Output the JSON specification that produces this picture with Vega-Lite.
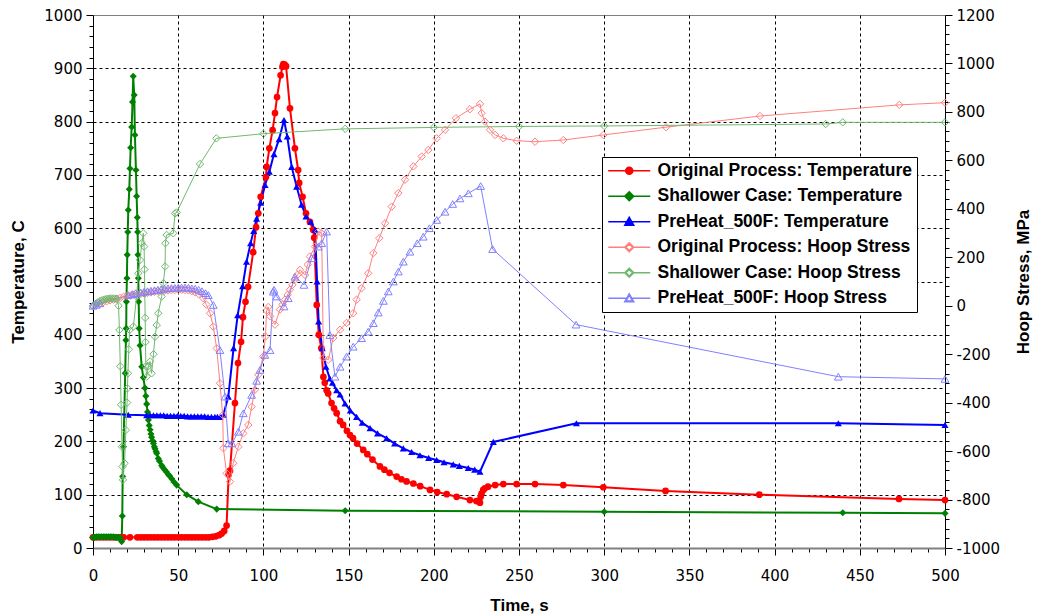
{
"$schema":"https://vega.github.io/schema/vega-lite/v6.json",
"width":852,"height":533,
"autosize":"none",
"padding":{"left":93,"top":15,"right":94,"bottom":67},
"background":"white",
"config":{
 "view":{"stroke":"#808080","strokeWidth":1},
 "axis":{"labelFont":"DejaVu Sans","labelFontSize":15,"labelColor":"black","titleFont":"Liberation Sans","titleFontSize":17,"titleFontWeight":"bold","titleColor":"black","tickColor":"black","domainColor":"black","labelOverlap":false,"labelFlush":false,"tickSize":7}
},
"datasets":{
"series":[{"s":"Original Process: Temperature"},{"s":"Shallower Case: Temperature"},{"s":"PreHeat_500F: Temperature"},{"s":"Original Process: Hoop Stress"},{"s":"Shallower Case: Hoop Stress"},{"s":"PreHeat_500F: Hoop Stress"}],
"temp":[
{"s":"Original Process: Temperature","t":0,"v":20},{"s":"Original Process: Temperature","t":2,"v":20},{"s":"Original Process: Temperature","t":4,"v":20},{"s":"Original Process: Temperature","t":6,"v":20},{"s":"Original Process: Temperature","t":8,"v":20},{"s":"Original Process: Temperature","t":10,"v":20},{"s":"Original Process: Temperature","t":12,"v":20},{"s":"Original Process: Temperature","t":14,"v":20},{"s":"Original Process: Temperature","t":16,"v":20},{"s":"Original Process: Temperature","t":18,"v":20},{"s":"Original Process: Temperature","t":21.7,"v":20},{"s":"Original Process: Temperature","t":26,"v":20},{"s":"Original Process: Temperature","t":28,"v":20},{"s":"Original Process: Temperature","t":30,"v":20},{"s":"Original Process: Temperature","t":32,"v":20},{"s":"Original Process: Temperature","t":34,"v":20},{"s":"Original Process: Temperature","t":36,"v":20},{"s":"Original Process: Temperature","t":38,"v":20},{"s":"Original Process: Temperature","t":40,"v":20},{"s":"Original Process: Temperature","t":42,"v":20},{"s":"Original Process: Temperature","t":44,"v":20},{"s":"Original Process: Temperature","t":46,"v":20},{"s":"Original Process: Temperature","t":48,"v":20},{"s":"Original Process: Temperature","t":50,"v":20},{"s":"Original Process: Temperature","t":52,"v":20},{"s":"Original Process: Temperature","t":54,"v":20},{"s":"Original Process: Temperature","t":56,"v":20},{"s":"Original Process: Temperature","t":58,"v":20},{"s":"Original Process: Temperature","t":60,"v":20},{"s":"Original Process: Temperature","t":62,"v":20},{"s":"Original Process: Temperature","t":64,"v":20},{"s":"Original Process: Temperature","t":66,"v":20},{"s":"Original Process: Temperature","t":68,"v":20},{"s":"Original Process: Temperature","t":70,"v":21},{"s":"Original Process: Temperature","t":72,"v":22},{"s":"Original Process: Temperature","t":74,"v":24},{"s":"Original Process: Temperature","t":75.5,"v":27},{"s":"Original Process: Temperature","t":77,"v":32},{"s":"Original Process: Temperature","t":78.4,"v":42},{"s":"Original Process: Temperature","t":79.6,"v":138},{"s":"Original Process: Temperature","t":80.4,"v":145},{"s":"Original Process: Temperature","t":83.3,"v":272},{"s":"Original Process: Temperature","t":85.1,"v":347},{"s":"Original Process: Temperature","t":86.9,"v":387},{"s":"Original Process: Temperature","t":88,"v":433},{"s":"Original Process: Temperature","t":89.5,"v":462},{"s":"Original Process: Temperature","t":91,"v":490},{"s":"Original Process: Temperature","t":94,"v":555},{"s":"Original Process: Temperature","t":95.7,"v":602},{"s":"Original Process: Temperature","t":97,"v":628},{"s":"Original Process: Temperature","t":98.4,"v":659},{"s":"Original Process: Temperature","t":101.5,"v":696},{"s":"Original Process: Temperature","t":101.9,"v":715},{"s":"Original Process: Temperature","t":103.5,"v":750},{"s":"Original Process: Temperature","t":105.4,"v":784},{"s":"Original Process: Temperature","t":106.8,"v":816},{"s":"Original Process: Temperature","t":108,"v":846},{"s":"Original Process: Temperature","t":110.1,"v":887},{"s":"Original Process: Temperature","t":111.2,"v":903},{"s":"Original Process: Temperature","t":111.7,"v":908},{"s":"Original Process: Temperature","t":112.5,"v":907},{"s":"Original Process: Temperature","t":113.3,"v":904},{"s":"Original Process: Temperature","t":115.6,"v":825},{"s":"Original Process: Temperature","t":118.5,"v":750},{"s":"Original Process: Temperature","t":120.4,"v":709},{"s":"Original Process: Temperature","t":121,"v":685},{"s":"Original Process: Temperature","t":123,"v":659},{"s":"Original Process: Temperature","t":125,"v":628},{"s":"Original Process: Temperature","t":127.3,"v":612},{"s":"Original Process: Temperature","t":129.2,"v":597},{"s":"Original Process: Temperature","t":129.8,"v":582},{"s":"Original Process: Temperature","t":131.3,"v":456},{"s":"Original Process: Temperature","t":132.5,"v":400},{"s":"Original Process: Temperature","t":134,"v":375},{"s":"Original Process: Temperature","t":135.2,"v":321},{"s":"Original Process: Temperature","t":136,"v":310},{"s":"Original Process: Temperature","t":137.1,"v":296},{"s":"Original Process: Temperature","t":138,"v":290},{"s":"Original Process: Temperature","t":140,"v":272},{"s":"Original Process: Temperature","t":141.5,"v":262},{"s":"Original Process: Temperature","t":143,"v":253},{"s":"Original Process: Temperature","t":145,"v":238},{"s":"Original Process: Temperature","t":146.8,"v":231},{"s":"Original Process: Temperature","t":149,"v":220},{"s":"Original Process: Temperature","t":150.8,"v":212},{"s":"Original Process: Temperature","t":152.6,"v":206},{"s":"Original Process: Temperature","t":155,"v":196},{"s":"Original Process: Temperature","t":158.6,"v":184},{"s":"Original Process: Temperature","t":161,"v":176},{"s":"Original Process: Temperature","t":164,"v":166},{"s":"Original Process: Temperature","t":168.4,"v":153},{"s":"Original Process: Temperature","t":171,"v":147},{"s":"Original Process: Temperature","t":174,"v":141},{"s":"Original Process: Temperature","t":178.2,"v":134},{"s":"Original Process: Temperature","t":181,"v":129},{"s":"Original Process: Temperature","t":184,"v":125},{"s":"Original Process: Temperature","t":188,"v":121},{"s":"Original Process: Temperature","t":192,"v":116},{"s":"Original Process: Temperature","t":197.8,"v":109},{"s":"Original Process: Temperature","t":202,"v":105},{"s":"Original Process: Temperature","t":207.6,"v":101},{"s":"Original Process: Temperature","t":213.4,"v":96},{"s":"Original Process: Temperature","t":221.2,"v":90},{"s":"Original Process: Temperature","t":225,"v":88},{"s":"Original Process: Temperature","t":227.1,"v":85},{"s":"Original Process: Temperature","t":227.5,"v":96},{"s":"Original Process: Temperature","t":228,"v":102},{"s":"Original Process: Temperature","t":229,"v":109},{"s":"Original Process: Temperature","t":230,"v":112},{"s":"Original Process: Temperature","t":231.8,"v":115},{"s":"Original Process: Temperature","t":236,"v":118},{"s":"Original Process: Temperature","t":240.8,"v":120},{"s":"Original Process: Temperature","t":248.6,"v":120},{"s":"Original Process: Temperature","t":259.4,"v":120},{"s":"Original Process: Temperature","t":276,"v":118},{"s":"Original Process: Temperature","t":299.5,"v":114},{"s":"Original Process: Temperature","t":336,"v":107},{"s":"Original Process: Temperature","t":391,"v":100},{"s":"Original Process: Temperature","t":473,"v":92},{"s":"Original Process: Temperature","t":500,"v":90},
{"s":"Shallower Case: Temperature","t":0,"v":20},{"s":"Shallower Case: Temperature","t":1,"v":20},{"s":"Shallower Case: Temperature","t":2,"v":21},{"s":"Shallower Case: Temperature","t":3,"v":21},{"s":"Shallower Case: Temperature","t":4,"v":21},{"s":"Shallower Case: Temperature","t":5,"v":21},{"s":"Shallower Case: Temperature","t":6,"v":21},{"s":"Shallower Case: Temperature","t":7,"v":21},{"s":"Shallower Case: Temperature","t":8,"v":21},{"s":"Shallower Case: Temperature","t":9,"v":21},{"s":"Shallower Case: Temperature","t":10,"v":21},{"s":"Shallower Case: Temperature","t":11,"v":21},{"s":"Shallower Case: Temperature","t":12,"v":21},{"s":"Shallower Case: Temperature","t":13,"v":20},{"s":"Shallower Case: Temperature","t":14,"v":20},{"s":"Shallower Case: Temperature","t":15,"v":20},{"s":"Shallower Case: Temperature","t":16,"v":19},{"s":"Shallower Case: Temperature","t":16.8,"v":12},{"s":"Shallower Case: Temperature","t":17.2,"v":60},{"s":"Shallower Case: Temperature","t":17.4,"v":134},{"s":"Shallower Case: Temperature","t":17.9,"v":190},{"s":"Shallower Case: Temperature","t":18.9,"v":328},{"s":"Shallower Case: Temperature","t":19.3,"v":390},{"s":"Shallower Case: Temperature","t":19.5,"v":412},{"s":"Shallower Case: Temperature","t":19.6,"v":462},{"s":"Shallower Case: Temperature","t":19.9,"v":506},{"s":"Shallower Case: Temperature","t":20.1,"v":550},{"s":"Shallower Case: Temperature","t":20.4,"v":593},{"s":"Shallower Case: Temperature","t":20.7,"v":634},{"s":"Shallower Case: Temperature","t":21.3,"v":673},{"s":"Shallower Case: Temperature","t":21.7,"v":712},{"s":"Shallower Case: Temperature","t":22.1,"v":751},{"s":"Shallower Case: Temperature","t":22.7,"v":790},{"s":"Shallower Case: Temperature","t":23.2,"v":837},{"s":"Shallower Case: Temperature","t":23.6,"v":885},{"s":"Shallower Case: Temperature","t":24.2,"v":850},{"s":"Shallower Case: Temperature","t":24.6,"v":775},{"s":"Shallower Case: Temperature","t":25.2,"v":709},{"s":"Shallower Case: Temperature","t":25.6,"v":660},{"s":"Shallower Case: Temperature","t":26,"v":620},{"s":"Shallower Case: Temperature","t":26.2,"v":593},{"s":"Shallower Case: Temperature","t":26.4,"v":550},{"s":"Shallower Case: Temperature","t":26.6,"v":506},{"s":"Shallower Case: Temperature","t":26.8,"v":462},{"s":"Shallower Case: Temperature","t":27.1,"v":412},{"s":"Shallower Case: Temperature","t":27.6,"v":380},{"s":"Shallower Case: Temperature","t":28.6,"v":340},{"s":"Shallower Case: Temperature","t":29.5,"v":320},{"s":"Shallower Case: Temperature","t":30.5,"v":300},{"s":"Shallower Case: Temperature","t":31,"v":285},{"s":"Shallower Case: Temperature","t":31.5,"v":270},{"s":"Shallower Case: Temperature","t":32,"v":255},{"s":"Shallower Case: Temperature","t":32.5,"v":240},{"s":"Shallower Case: Temperature","t":33,"v":230},{"s":"Shallower Case: Temperature","t":33.5,"v":222},{"s":"Shallower Case: Temperature","t":34,"v":214},{"s":"Shallower Case: Temperature","t":34.4,"v":208},{"s":"Shallower Case: Temperature","t":35,"v":201},{"s":"Shallower Case: Temperature","t":35.5,"v":196},{"s":"Shallower Case: Temperature","t":36,"v":190},{"s":"Shallower Case: Temperature","t":36.4,"v":186},{"s":"Shallower Case: Temperature","t":37,"v":181},{"s":"Shallower Case: Temperature","t":37.4,"v":178},{"s":"Shallower Case: Temperature","t":38.3,"v":168},{"s":"Shallower Case: Temperature","t":39,"v":163},{"s":"Shallower Case: Temperature","t":40.3,"v":155},{"s":"Shallower Case: Temperature","t":41,"v":151},{"s":"Shallower Case: Temperature","t":42,"v":147},{"s":"Shallower Case: Temperature","t":43,"v":143},{"s":"Shallower Case: Temperature","t":44.2,"v":138},{"s":"Shallower Case: Temperature","t":45,"v":135},{"s":"Shallower Case: Temperature","t":46.2,"v":130},{"s":"Shallower Case: Temperature","t":47.5,"v":124},{"s":"Shallower Case: Temperature","t":49.1,"v":118},{"s":"Shallower Case: Temperature","t":55,"v":100},{"s":"Shallower Case: Temperature","t":61.8,"v":87},{"s":"Shallower Case: Temperature","t":72.6,"v":73},{"s":"Shallower Case: Temperature","t":148,"v":70},{"s":"Shallower Case: Temperature","t":300,"v":68},{"s":"Shallower Case: Temperature","t":440,"v":66},{"s":"Shallower Case: Temperature","t":500,"v":65},
{"s":"PreHeat_500F: Temperature","t":0,"v":258},{"s":"PreHeat_500F: Temperature","t":4.1,"v":253},{"s":"PreHeat_500F: Temperature","t":20.7,"v":250},{"s":"PreHeat_500F: Temperature","t":31.5,"v":249},{"s":"PreHeat_500F: Temperature","t":33.5,"v":249},{"s":"PreHeat_500F: Temperature","t":35.5,"v":249},{"s":"PreHeat_500F: Temperature","t":37.5,"v":249},{"s":"PreHeat_500F: Temperature","t":39.5,"v":249},{"s":"PreHeat_500F: Temperature","t":41.5,"v":249},{"s":"PreHeat_500F: Temperature","t":43.5,"v":248},{"s":"PreHeat_500F: Temperature","t":45.5,"v":248},{"s":"PreHeat_500F: Temperature","t":47.5,"v":248},{"s":"PreHeat_500F: Temperature","t":49.5,"v":248},{"s":"PreHeat_500F: Temperature","t":51.5,"v":248},{"s":"PreHeat_500F: Temperature","t":53.5,"v":248},{"s":"PreHeat_500F: Temperature","t":55.5,"v":247},{"s":"PreHeat_500F: Temperature","t":57.5,"v":247},{"s":"PreHeat_500F: Temperature","t":59.5,"v":247},{"s":"PreHeat_500F: Temperature","t":61.5,"v":247},{"s":"PreHeat_500F: Temperature","t":63.5,"v":247},{"s":"PreHeat_500F: Temperature","t":65.5,"v":247},{"s":"PreHeat_500F: Temperature","t":67.5,"v":246},{"s":"PreHeat_500F: Temperature","t":69.5,"v":246},{"s":"PreHeat_500F: Temperature","t":71.5,"v":246},{"s":"PreHeat_500F: Temperature","t":73,"v":246},{"s":"PreHeat_500F: Temperature","t":74.5,"v":246},{"s":"PreHeat_500F: Temperature","t":76.5,"v":250},{"s":"PreHeat_500F: Temperature","t":79.4,"v":284},{"s":"PreHeat_500F: Temperature","t":82.5,"v":375},{"s":"PreHeat_500F: Temperature","t":84.9,"v":437},{"s":"PreHeat_500F: Temperature","t":87.8,"v":491},{"s":"PreHeat_500F: Temperature","t":90.1,"v":537},{"s":"PreHeat_500F: Temperature","t":92.5,"v":572},{"s":"PreHeat_500F: Temperature","t":94.3,"v":595},{"s":"PreHeat_500F: Temperature","t":96,"v":618},{"s":"PreHeat_500F: Temperature","t":98.4,"v":648},{"s":"PreHeat_500F: Temperature","t":101,"v":681},{"s":"PreHeat_500F: Temperature","t":103.5,"v":706},{"s":"PreHeat_500F: Temperature","t":106.2,"v":739},{"s":"PreHeat_500F: Temperature","t":109.2,"v":767},{"s":"PreHeat_500F: Temperature","t":112.1,"v":803},{"s":"PreHeat_500F: Temperature","t":114,"v":772},{"s":"PreHeat_500F: Temperature","t":116.6,"v":715},{"s":"PreHeat_500F: Temperature","t":119.5,"v":678},{"s":"PreHeat_500F: Temperature","t":122.4,"v":644},{"s":"PreHeat_500F: Temperature","t":125,"v":622},{"s":"PreHeat_500F: Temperature","t":127.8,"v":612},{"s":"PreHeat_500F: Temperature","t":130.3,"v":597},{"s":"PreHeat_500F: Temperature","t":131.5,"v":500},{"s":"PreHeat_500F: Temperature","t":132.4,"v":425},{"s":"PreHeat_500F: Temperature","t":134.5,"v":375},{"s":"PreHeat_500F: Temperature","t":136.7,"v":340},{"s":"PreHeat_500F: Temperature","t":139,"v":318},{"s":"PreHeat_500F: Temperature","t":140.5,"v":310},{"s":"PreHeat_500F: Temperature","t":143,"v":296},{"s":"PreHeat_500F: Temperature","t":145,"v":288},{"s":"PreHeat_500F: Temperature","t":147.9,"v":271},{"s":"PreHeat_500F: Temperature","t":151,"v":258},{"s":"PreHeat_500F: Temperature","t":154.7,"v":246},{"s":"PreHeat_500F: Temperature","t":158,"v":235},{"s":"PreHeat_500F: Temperature","t":162.6,"v":225},{"s":"PreHeat_500F: Temperature","t":167,"v":215},{"s":"PreHeat_500F: Temperature","t":172.3,"v":206},{"s":"PreHeat_500F: Temperature","t":177,"v":196},{"s":"PreHeat_500F: Temperature","t":182.1,"v":187},{"s":"PreHeat_500F: Temperature","t":187,"v":180},{"s":"PreHeat_500F: Temperature","t":191.9,"v":174},{"s":"PreHeat_500F: Temperature","t":197,"v":169},{"s":"PreHeat_500F: Temperature","t":201.7,"v":165},{"s":"PreHeat_500F: Temperature","t":206,"v":161},{"s":"PreHeat_500F: Temperature","t":211.4,"v":157},{"s":"PreHeat_500F: Temperature","t":215,"v":154},{"s":"PreHeat_500F: Temperature","t":220.2,"v":150},{"s":"PreHeat_500F: Temperature","t":224,"v":147},{"s":"PreHeat_500F: Temperature","t":227.1,"v":143},{"s":"PreHeat_500F: Temperature","t":234.9,"v":199},{"s":"PreHeat_500F: Temperature","t":283.7,"v":234},{"s":"PreHeat_500F: Temperature","t":437.4,"v":234},{"s":"PreHeat_500F: Temperature","t":500,"v":231}
],
"stress":[
{"s":"Original Process: Hoop Stress","t":0,"v":-3},{"s":"Original Process: Hoop Stress","t":2,"v":3},{"s":"Original Process: Hoop Stress","t":4,"v":9},{"s":"Original Process: Hoop Stress","t":6,"v":14},{"s":"Original Process: Hoop Stress","t":8,"v":18},{"s":"Original Process: Hoop Stress","t":10,"v":22},{"s":"Original Process: Hoop Stress","t":12,"v":25},{"s":"Original Process: Hoop Stress","t":14,"v":29},{"s":"Original Process: Hoop Stress","t":16,"v":33},{"s":"Original Process: Hoop Stress","t":18,"v":37},{"s":"Original Process: Hoop Stress","t":20,"v":40},{"s":"Original Process: Hoop Stress","t":22,"v":42},{"s":"Original Process: Hoop Stress","t":24,"v":45},{"s":"Original Process: Hoop Stress","t":26,"v":47},{"s":"Original Process: Hoop Stress","t":28,"v":49},{"s":"Original Process: Hoop Stress","t":30,"v":51},{"s":"Original Process: Hoop Stress","t":32,"v":53},{"s":"Original Process: Hoop Stress","t":34,"v":55},{"s":"Original Process: Hoop Stress","t":36,"v":57},{"s":"Original Process: Hoop Stress","t":38,"v":59},{"s":"Original Process: Hoop Stress","t":40,"v":61},{"s":"Original Process: Hoop Stress","t":42,"v":62},{"s":"Original Process: Hoop Stress","t":44,"v":63},{"s":"Original Process: Hoop Stress","t":46,"v":64},{"s":"Original Process: Hoop Stress","t":48,"v":65},{"s":"Original Process: Hoop Stress","t":50,"v":66},{"s":"Original Process: Hoop Stress","t":52,"v":66},{"s":"Original Process: Hoop Stress","t":54,"v":65},{"s":"Original Process: Hoop Stress","t":56,"v":63},{"s":"Original Process: Hoop Stress","t":58,"v":60},{"s":"Original Process: Hoop Stress","t":60,"v":55},{"s":"Original Process: Hoop Stress","t":62,"v":48},{"s":"Original Process: Hoop Stress","t":64.7,"v":31},{"s":"Original Process: Hoop Stress","t":66.5,"v":5},{"s":"Original Process: Hoop Stress","t":68.7,"v":-31},{"s":"Original Process: Hoop Stress","t":70.6,"v":-86},{"s":"Original Process: Hoop Stress","t":72.6,"v":-176},{"s":"Original Process: Hoop Stress","t":74.5,"v":-320},{"s":"Original Process: Hoop Stress","t":76.1,"v":-451},{"s":"Original Process: Hoop Stress","t":76.5,"v":-588},{"s":"Original Process: Hoop Stress","t":78.4,"v":-692},{"s":"Original Process: Hoop Stress","t":80.4,"v":-726},{"s":"Original Process: Hoop Stress","t":82.3,"v":-650},{"s":"Original Process: Hoop Stress","t":85.3,"v":-582},{"s":"Original Process: Hoop Stress","t":88.2,"v":-527},{"s":"Original Process: Hoop Stress","t":91.1,"v":-492},{"s":"Original Process: Hoop Stress","t":93.1,"v":-417},{"s":"Original Process: Hoop Stress","t":95,"v":-347},{"s":"Original Process: Hoop Stress","t":97,"v":-285},{"s":"Original Process: Hoop Stress","t":99.9,"v":-210},{"s":"Original Process: Hoop Stress","t":101.2,"v":-127},{"s":"Original Process: Hoop Stress","t":101.9,"v":-20},{"s":"Original Process: Hoop Stress","t":102.9,"v":-5},{"s":"Original Process: Hoop Stress","t":104,"v":-44},{"s":"Original Process: Hoop Stress","t":106.8,"v":-78},{"s":"Original Process: Hoop Stress","t":109.7,"v":-16},{"s":"Original Process: Hoop Stress","t":111.2,"v":5},{"s":"Original Process: Hoop Stress","t":112.7,"v":25},{"s":"Original Process: Hoop Stress","t":114.2,"v":45},{"s":"Original Process: Hoop Stress","t":115.6,"v":66},{"s":"Original Process: Hoop Stress","t":117,"v":86},{"s":"Original Process: Hoop Stress","t":118.5,"v":107},{"s":"Original Process: Hoop Stress","t":120,"v":128},{"s":"Original Process: Hoop Stress","t":121.5,"v":148},{"s":"Original Process: Hoop Stress","t":124.4,"v":127},{"s":"Original Process: Hoop Stress","t":126,"v":170},{"s":"Original Process: Hoop Stress","t":127.3,"v":203},{"s":"Original Process: Hoop Stress","t":130.3,"v":244},{"s":"Original Process: Hoop Stress","t":132.2,"v":306},{"s":"Original Process: Hoop Stress","t":134.2,"v":299},{"s":"Original Process: Hoop Stress","t":135.2,"v":-216},{"s":"Original Process: Hoop Stress","t":138.1,"v":-223},{"s":"Original Process: Hoop Stress","t":141,"v":-133},{"s":"Original Process: Hoop Stress","t":145,"v":-99},{"s":"Original Process: Hoop Stress","t":148.8,"v":-71},{"s":"Original Process: Hoop Stress","t":152.7,"v":-31},{"s":"Original Process: Hoop Stress","t":154.7,"v":25},{"s":"Original Process: Hoop Stress","t":157.6,"v":72},{"s":"Original Process: Hoop Stress","t":161.5,"v":134},{"s":"Original Process: Hoop Stress","t":164.5,"v":217},{"s":"Original Process: Hoop Stress","t":168,"v":279},{"s":"Original Process: Hoop Stress","t":171.4,"v":340},{"s":"Original Process: Hoop Stress","t":175.3,"v":409},{"s":"Original Process: Hoop Stress","t":179.2,"v":465},{"s":"Original Process: Hoop Stress","t":183.1,"v":520},{"s":"Original Process: Hoop Stress","t":188,"v":575},{"s":"Original Process: Hoop Stress","t":192.9,"v":616},{"s":"Original Process: Hoop Stress","t":196.8,"v":643},{"s":"Original Process: Hoop Stress","t":201.7,"v":691},{"s":"Original Process: Hoop Stress","t":206.6,"v":726},{"s":"Original Process: Hoop Stress","t":213,"v":774},{"s":"Original Process: Hoop Stress","t":221.2,"v":811},{"s":"Original Process: Hoop Stress","t":227.1,"v":833},{"s":"Original Process: Hoop Stress","t":228.1,"v":795},{"s":"Original Process: Hoop Stress","t":230,"v":760},{"s":"Original Process: Hoop Stress","t":233,"v":726},{"s":"Original Process: Hoop Stress","t":236,"v":705},{"s":"Original Process: Hoop Stress","t":240.8,"v":691},{"s":"Original Process: Hoop Stress","t":248.6,"v":681},{"s":"Original Process: Hoop Stress","t":259.4,"v":677},{"s":"Original Process: Hoop Stress","t":276,"v":684},{"s":"Original Process: Hoop Stress","t":299.5,"v":705},{"s":"Original Process: Hoop Stress","t":336.3,"v":737},{"s":"Original Process: Hoop Stress","t":391.4,"v":783},{"s":"Original Process: Hoop Stress","t":473.2,"v":829},{"s":"Original Process: Hoop Stress","t":500,"v":838},
{"s":"Shallower Case: Hoop Stress","t":0,"v":0},{"s":"Shallower Case: Hoop Stress","t":1,"v":5},{"s":"Shallower Case: Hoop Stress","t":2,"v":10},{"s":"Shallower Case: Hoop Stress","t":3,"v":14},{"s":"Shallower Case: Hoop Stress","t":4,"v":18},{"s":"Shallower Case: Hoop Stress","t":5,"v":21},{"s":"Shallower Case: Hoop Stress","t":6,"v":24},{"s":"Shallower Case: Hoop Stress","t":7,"v":26},{"s":"Shallower Case: Hoop Stress","t":8,"v":28},{"s":"Shallower Case: Hoop Stress","t":9,"v":29},{"s":"Shallower Case: Hoop Stress","t":10,"v":30},{"s":"Shallower Case: Hoop Stress","t":11,"v":30},{"s":"Shallower Case: Hoop Stress","t":12,"v":30},{"s":"Shallower Case: Hoop Stress","t":13,"v":29},{"s":"Shallower Case: Hoop Stress","t":14,"v":28},{"s":"Shallower Case: Hoop Stress","t":15,"v":0},{"s":"Shallower Case: Hoop Stress","t":15.5,"v":-100},{"s":"Shallower Case: Hoop Stress","t":16,"v":-250},{"s":"Shallower Case: Hoop Stress","t":16.5,"v":-409},{"s":"Shallower Case: Hoop Stress","t":17,"v":-582},{"s":"Shallower Case: Hoop Stress","t":17.3,"v":-664},{"s":"Shallower Case: Hoop Stress","t":17.6,"v":-719},{"s":"Shallower Case: Hoop Stress","t":18.5,"v":-650},{"s":"Shallower Case: Hoop Stress","t":19.3,"v":-513},{"s":"Shallower Case: Hoop Stress","t":20,"v":-400},{"s":"Shallower Case: Hoop Stress","t":20.2,"v":-341},{"s":"Shallower Case: Hoop Stress","t":20.5,"v":-279},{"s":"Shallower Case: Hoop Stress","t":21,"v":-180},{"s":"Shallower Case: Hoop Stress","t":21.5,"v":-100},{"s":"Shallower Case: Hoop Stress","t":23.7,"v":-86},{"s":"Shallower Case: Hoop Stress","t":25.6,"v":38},{"s":"Shallower Case: Hoop Stress","t":26.6,"v":134},{"s":"Shallower Case: Hoop Stress","t":27.6,"v":189},{"s":"Shallower Case: Hoop Stress","t":28.6,"v":258},{"s":"Shallower Case: Hoop Stress","t":29.5,"v":299},{"s":"Shallower Case: Hoop Stress","t":30,"v":244},{"s":"Shallower Case: Hoop Stress","t":30.2,"v":150},{"s":"Shallower Case: Hoop Stress","t":30.4,"v":50},{"s":"Shallower Case: Hoop Stress","t":30.6,"v":-50},{"s":"Shallower Case: Hoop Stress","t":30.8,"v":-150},{"s":"Shallower Case: Hoop Stress","t":31,"v":-250},{"s":"Shallower Case: Hoop Stress","t":31.5,"v":-293},{"s":"Shallower Case: Hoop Stress","t":32.5,"v":-250},{"s":"Shallower Case: Hoop Stress","t":33.5,"v":-230},{"s":"Shallower Case: Hoop Stress","t":34.4,"v":-279},{"s":"Shallower Case: Hoop Stress","t":35.5,"v":-200},{"s":"Shallower Case: Hoop Stress","t":36.4,"v":-128},{"s":"Shallower Case: Hoop Stress","t":37.4,"v":-80},{"s":"Shallower Case: Hoop Stress","t":38.3,"v":-31},{"s":"Shallower Case: Hoop Stress","t":40.3,"v":38},{"s":"Shallower Case: Hoop Stress","t":41.3,"v":93},{"s":"Shallower Case: Hoop Stress","t":42.3,"v":162},{"s":"Shallower Case: Hoop Stress","t":42.5,"v":258},{"s":"Shallower Case: Hoop Stress","t":43.2,"v":292},{"s":"Shallower Case: Hoop Stress","t":47.1,"v":299},{"s":"Shallower Case: Hoop Stress","t":48.1,"v":381},{"s":"Shallower Case: Hoop Stress","t":49.1,"v":385},{"s":"Shallower Case: Hoop Stress","t":62.8,"v":585},{"s":"Shallower Case: Hoop Stress","t":72.4,"v":691},{"s":"Shallower Case: Hoop Stress","t":100,"v":710},{"s":"Shallower Case: Hoop Stress","t":148,"v":730},{"s":"Shallower Case: Hoop Stress","t":200,"v":736},{"s":"Shallower Case: Hoop Stress","t":250,"v":740},{"s":"Shallower Case: Hoop Stress","t":300,"v":742},{"s":"Shallower Case: Hoop Stress","t":430,"v":750},{"s":"Shallower Case: Hoop Stress","t":440,"v":757},{"s":"Shallower Case: Hoop Stress","t":500,"v":757},
{"s":"PreHeat_500F: Hoop Stress","t":0,"v":0},{"s":"PreHeat_500F: Hoop Stress","t":2,"v":4},{"s":"PreHeat_500F: Hoop Stress","t":4,"v":10},{"s":"PreHeat_500F: Hoop Stress","t":20.7,"v":44},{"s":"PreHeat_500F: Hoop Stress","t":23,"v":48},{"s":"PreHeat_500F: Hoop Stress","t":25,"v":52},{"s":"PreHeat_500F: Hoop Stress","t":28,"v":55},{"s":"PreHeat_500F: Hoop Stress","t":30,"v":58},{"s":"PreHeat_500F: Hoop Stress","t":32,"v":60},{"s":"PreHeat_500F: Hoop Stress","t":34,"v":62},{"s":"PreHeat_500F: Hoop Stress","t":36,"v":64},{"s":"PreHeat_500F: Hoop Stress","t":38,"v":66},{"s":"PreHeat_500F: Hoop Stress","t":40,"v":68},{"s":"PreHeat_500F: Hoop Stress","t":42,"v":70},{"s":"PreHeat_500F: Hoop Stress","t":44,"v":72},{"s":"PreHeat_500F: Hoop Stress","t":46,"v":73},{"s":"PreHeat_500F: Hoop Stress","t":48,"v":74},{"s":"PreHeat_500F: Hoop Stress","t":50,"v":75},{"s":"PreHeat_500F: Hoop Stress","t":52,"v":75},{"s":"PreHeat_500F: Hoop Stress","t":54,"v":75},{"s":"PreHeat_500F: Hoop Stress","t":56,"v":74},{"s":"PreHeat_500F: Hoop Stress","t":58,"v":72},{"s":"PreHeat_500F: Hoop Stress","t":60,"v":70},{"s":"PreHeat_500F: Hoop Stress","t":62,"v":66},{"s":"PreHeat_500F: Hoop Stress","t":64,"v":60},{"s":"PreHeat_500F: Hoop Stress","t":66,"v":52},{"s":"PreHeat_500F: Hoop Stress","t":67.7,"v":44},{"s":"PreHeat_500F: Hoop Stress","t":70.6,"v":3},{"s":"PreHeat_500F: Hoop Stress","t":74.5,"v":-183},{"s":"PreHeat_500F: Hoop Stress","t":77.5,"v":-375},{"s":"PreHeat_500F: Hoop Stress","t":79.4,"v":-568},{"s":"PreHeat_500F: Hoop Stress","t":81.5,"v":-568},{"s":"PreHeat_500F: Hoop Stress","t":85.3,"v":-520},{"s":"PreHeat_500F: Hoop Stress","t":88.2,"v":-444},{"s":"PreHeat_500F: Hoop Stress","t":93.1,"v":-368},{"s":"PreHeat_500F: Hoop Stress","t":96,"v":-310},{"s":"PreHeat_500F: Hoop Stress","t":98,"v":-265},{"s":"PreHeat_500F: Hoop Stress","t":100.9,"v":-203},{"s":"PreHeat_500F: Hoop Stress","t":103.9,"v":-183},{"s":"PreHeat_500F: Hoop Stress","t":105.8,"v":58},{"s":"PreHeat_500F: Hoop Stress","t":106.2,"v":66},{"s":"PreHeat_500F: Hoop Stress","t":107.8,"v":38},{"s":"PreHeat_500F: Hoop Stress","t":112.1,"v":-3},{"s":"PreHeat_500F: Hoop Stress","t":114.6,"v":31},{"s":"PreHeat_500F: Hoop Stress","t":118.5,"v":120},{"s":"PreHeat_500F: Hoop Stress","t":123.8,"v":86},{"s":"PreHeat_500F: Hoop Stress","t":128.3,"v":196},{"s":"PreHeat_500F: Hoop Stress","t":132.2,"v":244},{"s":"PreHeat_500F: Hoop Stress","t":134.2,"v":258},{"s":"PreHeat_500F: Hoop Stress","t":137.1,"v":306},{"s":"PreHeat_500F: Hoop Stress","t":139,"v":-121},{"s":"PreHeat_500F: Hoop Stress","t":142,"v":-293},{"s":"PreHeat_500F: Hoop Stress","t":145,"v":-252},{"s":"PreHeat_500F: Hoop Stress","t":148.8,"v":-210},{"s":"PreHeat_500F: Hoop Stress","t":152.7,"v":-169},{"s":"PreHeat_500F: Hoop Stress","t":157.6,"v":-134},{"s":"PreHeat_500F: Hoop Stress","t":161.5,"v":-107},{"s":"PreHeat_500F: Hoop Stress","t":164.5,"v":-72},{"s":"PreHeat_500F: Hoop Stress","t":167.4,"v":-28},{"s":"PreHeat_500F: Hoop Stress","t":170.4,"v":20},{"s":"PreHeat_500F: Hoop Stress","t":173.3,"v":59},{"s":"PreHeat_500F: Hoop Stress","t":176.3,"v":100},{"s":"PreHeat_500F: Hoop Stress","t":179.2,"v":141},{"s":"PreHeat_500F: Hoop Stress","t":182.1,"v":182},{"s":"PreHeat_500F: Hoop Stress","t":186,"v":223},{"s":"PreHeat_500F: Hoop Stress","t":190.3,"v":258},{"s":"PreHeat_500F: Hoop Stress","t":193.8,"v":285},{"s":"PreHeat_500F: Hoop Stress","t":197.4,"v":320},{"s":"PreHeat_500F: Hoop Stress","t":201.7,"v":354},{"s":"PreHeat_500F: Hoop Stress","t":206.6,"v":388},{"s":"PreHeat_500F: Hoop Stress","t":211.1,"v":420},{"s":"PreHeat_500F: Hoop Stress","t":215.4,"v":443},{"s":"PreHeat_500F: Hoop Stress","t":220.3,"v":464},{"s":"PreHeat_500F: Hoop Stress","t":227.5,"v":494},{"s":"PreHeat_500F: Hoop Stress","t":234.5,"v":234},{"s":"PreHeat_500F: Hoop Stress","t":283.5,"v":-78},{"s":"PreHeat_500F: Hoop Stress","t":437.4,"v":-293},{"s":"PreHeat_500F: Hoop Stress","t":500,"v":-302}
]
},
"encoding":{
 "x":{"field":"t","type":"quantitative","scale":{"domain":[0,500],"nice":false,"zero":false},
  "axis":{"title":"Time, s","values":[0,10,20,30,40,50,60,70,80,90,100,110,120,130,140,150,160,170,180,190,200,210,220,230,240,250,260,270,280,290,300,310,320,330,340,350,360,370,380,390,400,410,420,430,440,450,460,470,480,490,500],
   "labelExpr":"datum.value % 50 === 0 ? '' + datum.value : ''",
   "tickDash":{"condition":{"test":"datum.value % 50 !== 0","value":[4,20]},"value":[]},
   "grid":true,"gridColor":"#000000","gridDash":[3,3],"gridWidth":1,
   "gridOpacity":{"condition":{"test":"datum.value % 50 !== 0 || datum.value === 0 || datum.value === 500","value":0},"value":1},
   "domainColor":"#808080","domainWidth":2,"labelPadding":13,"titlePadding":14}},
 "color":{"field":"s","type":"nominal",
  "scale":{"domain":["Original Process: Temperature","Shallower Case: Temperature","PreHeat_500F: Temperature","Original Process: Hoop Stress","Shallower Case: Hoop Stress","PreHeat_500F: Hoop Stress"],
   "range":["#ff0000","#008000","#0000ff","#ff8080","#70b870","#8080ff"]},
  "legend":{"orient":"none","legendX":509,"legendY":142,"title":null,
   "strokeColor":"black","fillColor":"white","padding":5,
   "labelFont":"Liberation Sans","labelFontSize":17.5,"labelFontWeight":"bold","labelColor":"black","labelLimit":400,
   "symbolSize":225,"symbolOffset":13.5,"labelOffset":19.5,"rowPadding":6.5}}
},
"layer":[
 {"data":{"name":"temp"},
  "encoding":{"y":{"field":"v","type":"quantitative","scale":{"domain":[0,1000],"nice":false},
   "axis":{"orient":"left","title":"Temperature, C","values":[0,20,40,60,80,100,120,140,160,180,200,220,240,260,280,300,320,340,360,380,400,420,440,460,480,500,520,540,560,580,600,620,640,660,680,700,720,740,760,780,800,820,840,860,880,900,920,940,960,980,1000],
    "labelExpr":"datum.value % 100 === 0 ? '' + datum.value : ''",
    "tickDash":{"condition":{"test":"datum.value % 100 !== 0","value":[4,20]},"value":[]},
    "grid":true,"gridColor":"#000000","gridDash":[3,3],"gridWidth":1,
    "gridOpacity":{"condition":{"test":"datum.value % 100 !== 0 || datum.value === 0 || datum.value === 1000","value":0},"value":1},
    "domainColor":"black","labelPadding":4,"titlePadding":16}}},
  "layer":[
   {"mark":{"type":"line","strokeWidth":2}},
   {"transform":[{"filter":{"field":"s","equal":"Original Process: Temperature"}}],"mark":{"type":"point","shape":"circle","filled":true,"size":45,"opacity":1}},
   {"transform":[{"filter":{"field":"s","equal":"Shallower Case: Temperature"}}],"mark":{"type":"point","shape":"diamond","filled":true,"size":50,"opacity":1}},
   {"transform":[{"filter":{"field":"s","equal":"PreHeat_500F: Temperature"}}],"mark":{"type":"point","shape":"triangle-up","filled":true,"size":50,"opacity":1}}
  ]},
 {"data":{"name":"stress"},
  "encoding":{"y":{"field":"v","type":"quantitative","scale":{"domain":[-1000,1200],"nice":false,"zero":false},
   "axis":{"orient":"right","title":"Hoop Stress, MPa","titleAngle":270,"values":[-1000,-960,-920,-880,-840,-800,-760,-720,-680,-640,-600,-560,-520,-480,-440,-400,-360,-320,-280,-240,-200,-160,-120,-80,-40,0,40,80,120,160,200,240,280,320,360,400,440,480,520,560,600,640,680,720,760,800,840,880,920,960,1000,1040,1080,1120,1160,1200],
    "labelExpr":"datum.value % 200 === 0 ? '' + datum.value : ''",
    "tickDash":{"condition":{"test":"datum.value % 200 !== 0","value":[4,20]},"value":[]},
    "grid":false,"domainColor":"black","labelPadding":4,"titlePadding":33}}},
  "layer":[
   {"mark":{"type":"line","strokeWidth":1}},
   {"transform":[{"filter":"datum.s !== 'PreHeat_500F: Hoop Stress'"}],"mark":{"type":"point","shape":"diamond","filled":false,"size":55,"strokeWidth":1,"opacity":1}},
   {"transform":[{"filter":{"field":"s","equal":"PreHeat_500F: Hoop Stress"}}],"mark":{"type":"point","shape":"triangle-up","filled":false,"size":60,"strokeWidth":1,"opacity":1}}
  ]},
 {"data":{"name":"series"},
  "mark":{"type":"point","filled":false},
  "encoding":{"shape":{"field":"s","type":"nominal",
   "scale":{"domain":["Original Process: Temperature","Shallower Case: Temperature","PreHeat_500F: Temperature","Original Process: Hoop Stress","Shallower Case: Hoop Stress","PreHeat_500F: Hoop Stress"],
    "range":[
     "M-2.8,0H-0.47M0.47,0H2.8M0.47,0A0.47,0.47,0,1,1,-0.47,0A0.47,0.47,0,1,1,0.47,0Z",
     "M-2.8,0H-0.6M0.6,0H2.8M0,-0.6L0.6,0L0,0.6L-0.6,0Z",
     "M-2.8,0H-0.34M0.34,0H2.8M0,-0.6L0.6,0.47L-0.6,0.47Z",
     "M-2.8,0H-0.6M0.6,0H2.8M0,-0.6L0.6,0L0,0.6L-0.6,0ZM0,-0.45L-0.45,0L0,0.45L0.45,0Z",
     "M-2.8,0H-0.6M0.6,0H2.8M0,-0.6L0.6,0L0,0.6L-0.6,0ZM0,-0.45L-0.45,0L0,0.45L0.45,0Z",
     "M-2.8,0H-0.34M0.34,0H2.8M0,-0.6L0.6,0.47L-0.6,0.47ZM0,-0.4L-0.44,0.37L0.44,0.37Z"]},
   "legend":{"orient":"none","legendX":509,"legendY":142,"title":null,
   "strokeColor":"black","fillColor":"white","padding":5,
   "labelFont":"Liberation Sans","labelFontSize":17.5,"labelFontWeight":"bold","labelColor":"black","labelLimit":400,
   "symbolSize":225,"symbolOffset":13.5,"labelOffset":19.5,"rowPadding":6.5}}}}
],
"resolve":{"scale":{"y":"independent"}}
}
